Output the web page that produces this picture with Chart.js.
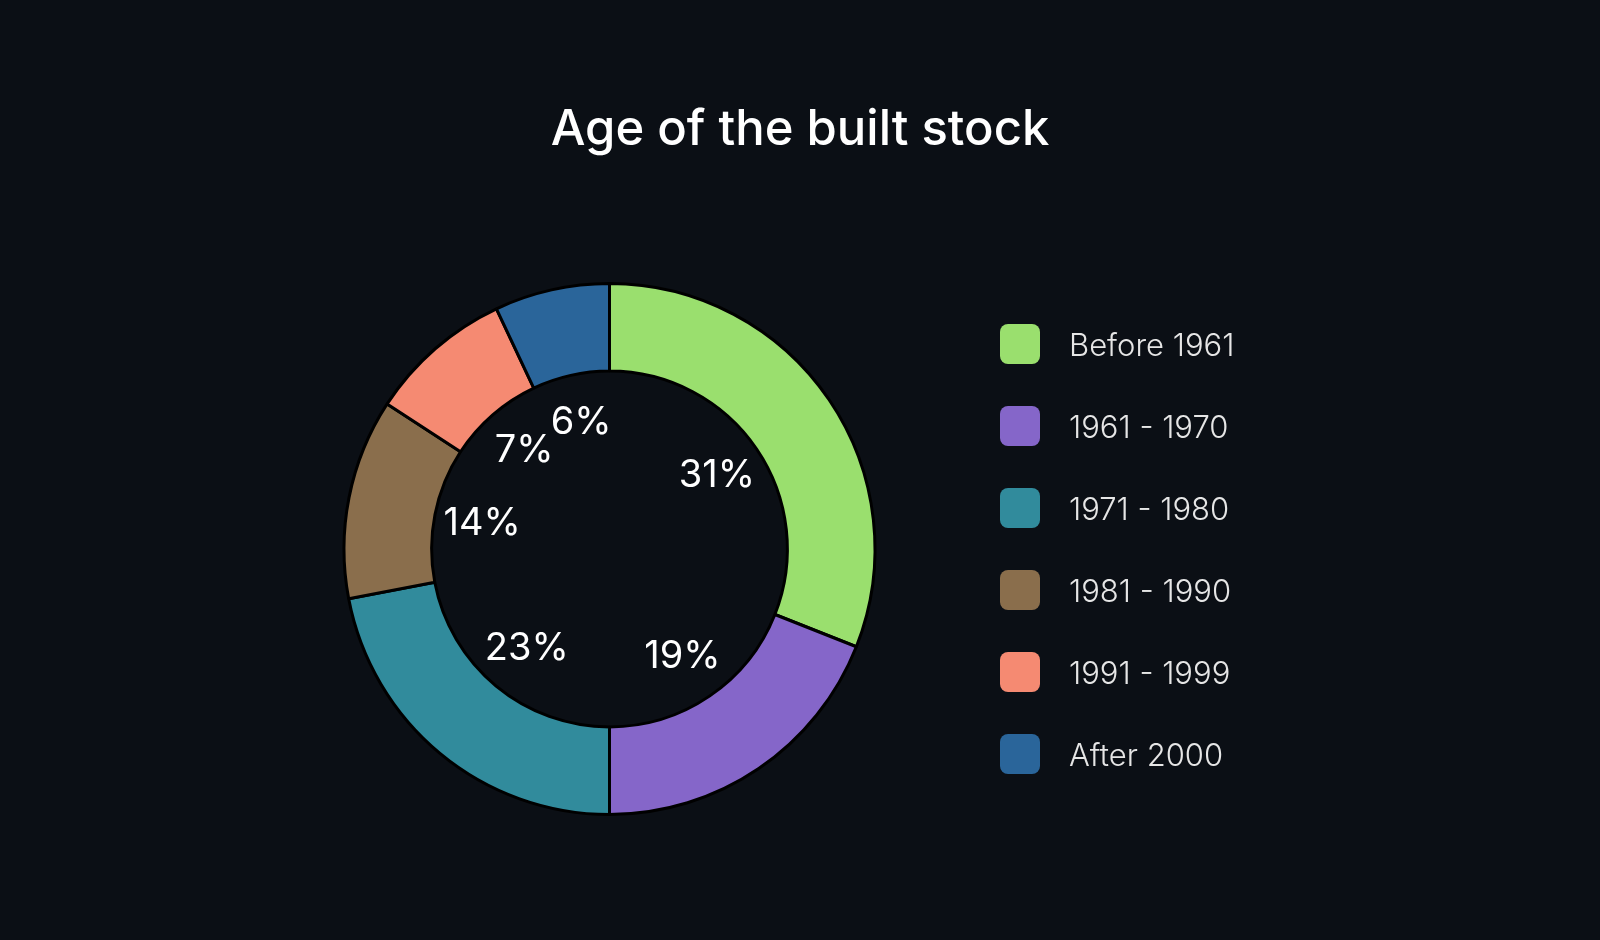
<!DOCTYPE html>
<html>
<head>
<meta charset="utf-8">
<script src="https://cdn.jsdelivr.net/npm/chart.js@4.4.0/dist/chart.umd.min.js"></script>
<style>
  html, body { margin: 0; padding: 0; background: #0b0f15; }
  #wrap { position: relative; width: 1600px; height: 940px; }
  #title { position: absolute; left: 0; top: 103px; width: 1600px; margin: 0; text-align: center;
           font-family: Inter, sans-serif; font-weight: 500; font-size: 49px; line-height: 49px; color: #ffffff; }
  #legend { position: absolute; left: 1000px; top: 303px; margin: 0; padding: 0; list-style: none; }
  #legend li { display: flex; align-items: center; height: 82px; }
  #legend .box { width: 40px; height: 40px; border-radius: 8px; margin-right: 29px; }
  #legend span { font-family: Inter, sans-serif; font-weight: 300; font-size: 31px; color: #e6e6e6; }
</style>
</head>
<body>
<div id="wrap">
  <canvas id="chart" width="1600" height="940"></canvas>
  <h1 id="title">Age of the built stock</h1>
  <ul id="legend"></ul>
</div>
<script>
// periods and their share of the stock (arc sizes as drawn)
const periods = ['Before 1961', '1961 - 1970', '1971 - 1980', '1981 - 1990', '1991 - 1999', 'After 2000'];
const shares = [31, 19, 22, 12.2, 8.8, 7];
// percentages as printed inside the ring
const shownPct = ['31%', '19%', '23%', '14%', '7%', '6%'];
const colors = ['#9adf6e', '#8566c9', '#318b9c', '#8a6e4c', '#f58a72', '#2a659a'];

Chart.defaults.font.family = 'Inter, sans-serif';

const pctLabels = {
  id: 'pctLabels',
  afterDatasetsDraw(chart) {
    const ctx = chart.ctx;
    const arcs = chart.getDatasetMeta(0).data;
    ctx.save();
    ctx.fillStyle = '#ffffff';
    ctx.font = '400 38px Inter, sans-serif';
    ctx.textAlign = 'center';
    ctx.textBaseline = 'middle';
    arcs.forEach((arc, i) => {
      const { x, y, startAngle, endAngle, innerRadius } = arc.getProps(['x', 'y', 'startAngle', 'endAngle', 'innerRadius']);
      const mid = (startAngle + endAngle) / 2;
      const r = innerRadius * 0.73;
      ctx.fillText(shownPct[i], x + Math.cos(mid) * r, y + Math.sin(mid) * r);
    });
    ctx.restore();
  }
};

const chart = new Chart(document.getElementById('chart'), {
  type: 'doughnut',
  data: {
    labels: periods,
    datasets: [{
      data: shares,
      backgroundColor: colors,
      borderColor: '#000000',
      borderWidth: 3,
      hoverOffset: 0
    }]
  },
  options: {
    responsive: false,
    animation: false,
    cutout: '67%',
    layout: { padding: { left: 342, right: 723, top: 282, bottom: 124 } },
    plugins: {
      legend: { display: false },
      tooltip: { enabled: false },
      title: { display: false }
    }
  },
  plugins: [pctLabels]
});

// legend built from the same arrays
const legend = document.getElementById('legend');
periods.forEach((p, i) => {
  const li = document.createElement('li');
  const box = document.createElement('div');
  box.className = 'box';
  box.style.background = colors[i];
  const txt = document.createElement('span');
  txt.textContent = p;
  li.appendChild(box);
  li.appendChild(txt);
  legend.appendChild(li);
});
</script>
</body>
</html>
